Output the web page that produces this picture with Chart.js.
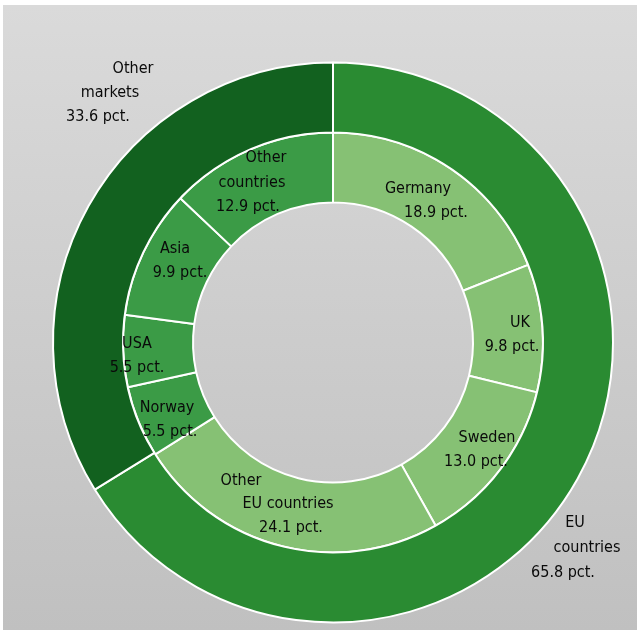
<!DOCTYPE html>
<html lang="en">
<head>
  <meta charset="UTF-8">
  <title>Sales by market</title>
  <style>
    body {
      margin: 0;
      padding: 0;
      background: #ffffff;
    }

    .panel {
      position: absolute;
      left: 3px;
      top: 5px;
      width: 634px;
      height: 625px;
      background: linear-gradient(to bottom, #dadada, #c0c0c0);
    }
  </style>
</head>
<body>
  <div class="panel">
    <canvas id="marketChart" width="634" height="625"></canvas>
  </div>

  <script src="https://cdn.jsdelivr.net/npm/chart.js"></script>
  <script>
    // outer ring
    const regions = ['EU countries', 'Other markets'];
    const regionShares = [65.8, 33.6];

    // inner ring
    const markets = ['Germany', 'UK', 'Sweden', 'Other EU countries', 'Norway', 'USA', 'Asia', 'Other countries'];
    const marketShares = [18.9, 9.8, 13.0, 24.1, 5.5, 5.5, 9.9, 12.9];

    const regionColors = ['#2a8b32', '#12611f'];
    const marketColors = ['#86c174', '#86c174', '#86c174', '#86c174', '#3b9b46', '#3b9b46', '#3b9b46', '#3b9b46'];

    // label text lines and where they sit, offset from the centre of the doughnut
    const regionLabels = [
      { lines: ['EU', 'countries', '65.8 pct.'], pos: [[242, 180], [254, 205], [230, 230]] },
      { lines: ['Other', 'markets', '33.6 pct.'], pos: [[-200, -274], [-223, -250], [-235, -226]] }
    ];
    const marketLabels = [
      { lines: ['Germany', '18.9 pct.'], pos: [[85, -154], [103, -130]] },
      { lines: ['UK', '9.8 pct.'], pos: [[187, -20], [179, 4]] },
      { lines: ['Sweden', '13.0 pct.'], pos: [[154, 95], [143, 119]] },
      { lines: ['Other', 'EU countries', '24.1 pct.'], pos: [[-92, 138], [-45, 161], [-42, 185]] },
      { lines: ['Norway', '5.5 pct.'], pos: [[-166, 65], [-163, 89]] },
      { lines: ['USA', '5.5 pct.'], pos: [[-196, 1], [-196, 25]] },
      { lines: ['Asia', '9.9 pct.'], pos: [[-158, -94], [-153, -70]] },
      { lines: ['Other', 'countries', '12.9 pct.'], pos: [[-67, -185], [-81, -160], [-85, -136]] }
    ];

    const textPlugin = {
      id: 'ringText',
      afterDatasetsDraw(chart) {
        const arc = chart.getDatasetMeta(0).data[0];
        const cx = arc.x, cy = arc.y;
        const c = chart.ctx;
        c.save();
        c.font = '16px "Liberation Sans Narrow", "DejaVu Sans Condensed", "Arial Narrow", sans-serif';
        c.fillStyle = '#0a0a0a';
        c.textAlign = 'center';
        c.textBaseline = 'middle';
        regionLabels.concat(marketLabels).forEach(l => {
          l.lines.forEach((t, i) => c.fillText(t, cx + l.pos[i][0], cy + l.pos[i][1]));
        });
        c.restore();
      }
    };

    new Chart(document.getElementById('marketChart'), {
      type: 'doughnut',
      data: {
        labels: markets,
        datasets: [
          {
            label: 'Regions',
            data: regionShares,
            backgroundColor: regionColors,
            borderColor: '#ffffff',
            borderWidth: 2
          },
          {
            label: 'Markets',
            data: marketShares,
            backgroundColor: marketColors,
            borderColor: '#ffffff',
            borderWidth: 2
          }
        ]
      },
      options: {
        responsive: false,
        animation: false,
        cutout: '50%',
        layout: { padding: { left: 49, right: 23, top: 56, bottom: 6 } },
        plugins: {
          legend: { display: false },
          tooltip: { enabled: false }
        }
      },
      plugins: [textPlugin]
    });
  </script>
</body>
</html>
